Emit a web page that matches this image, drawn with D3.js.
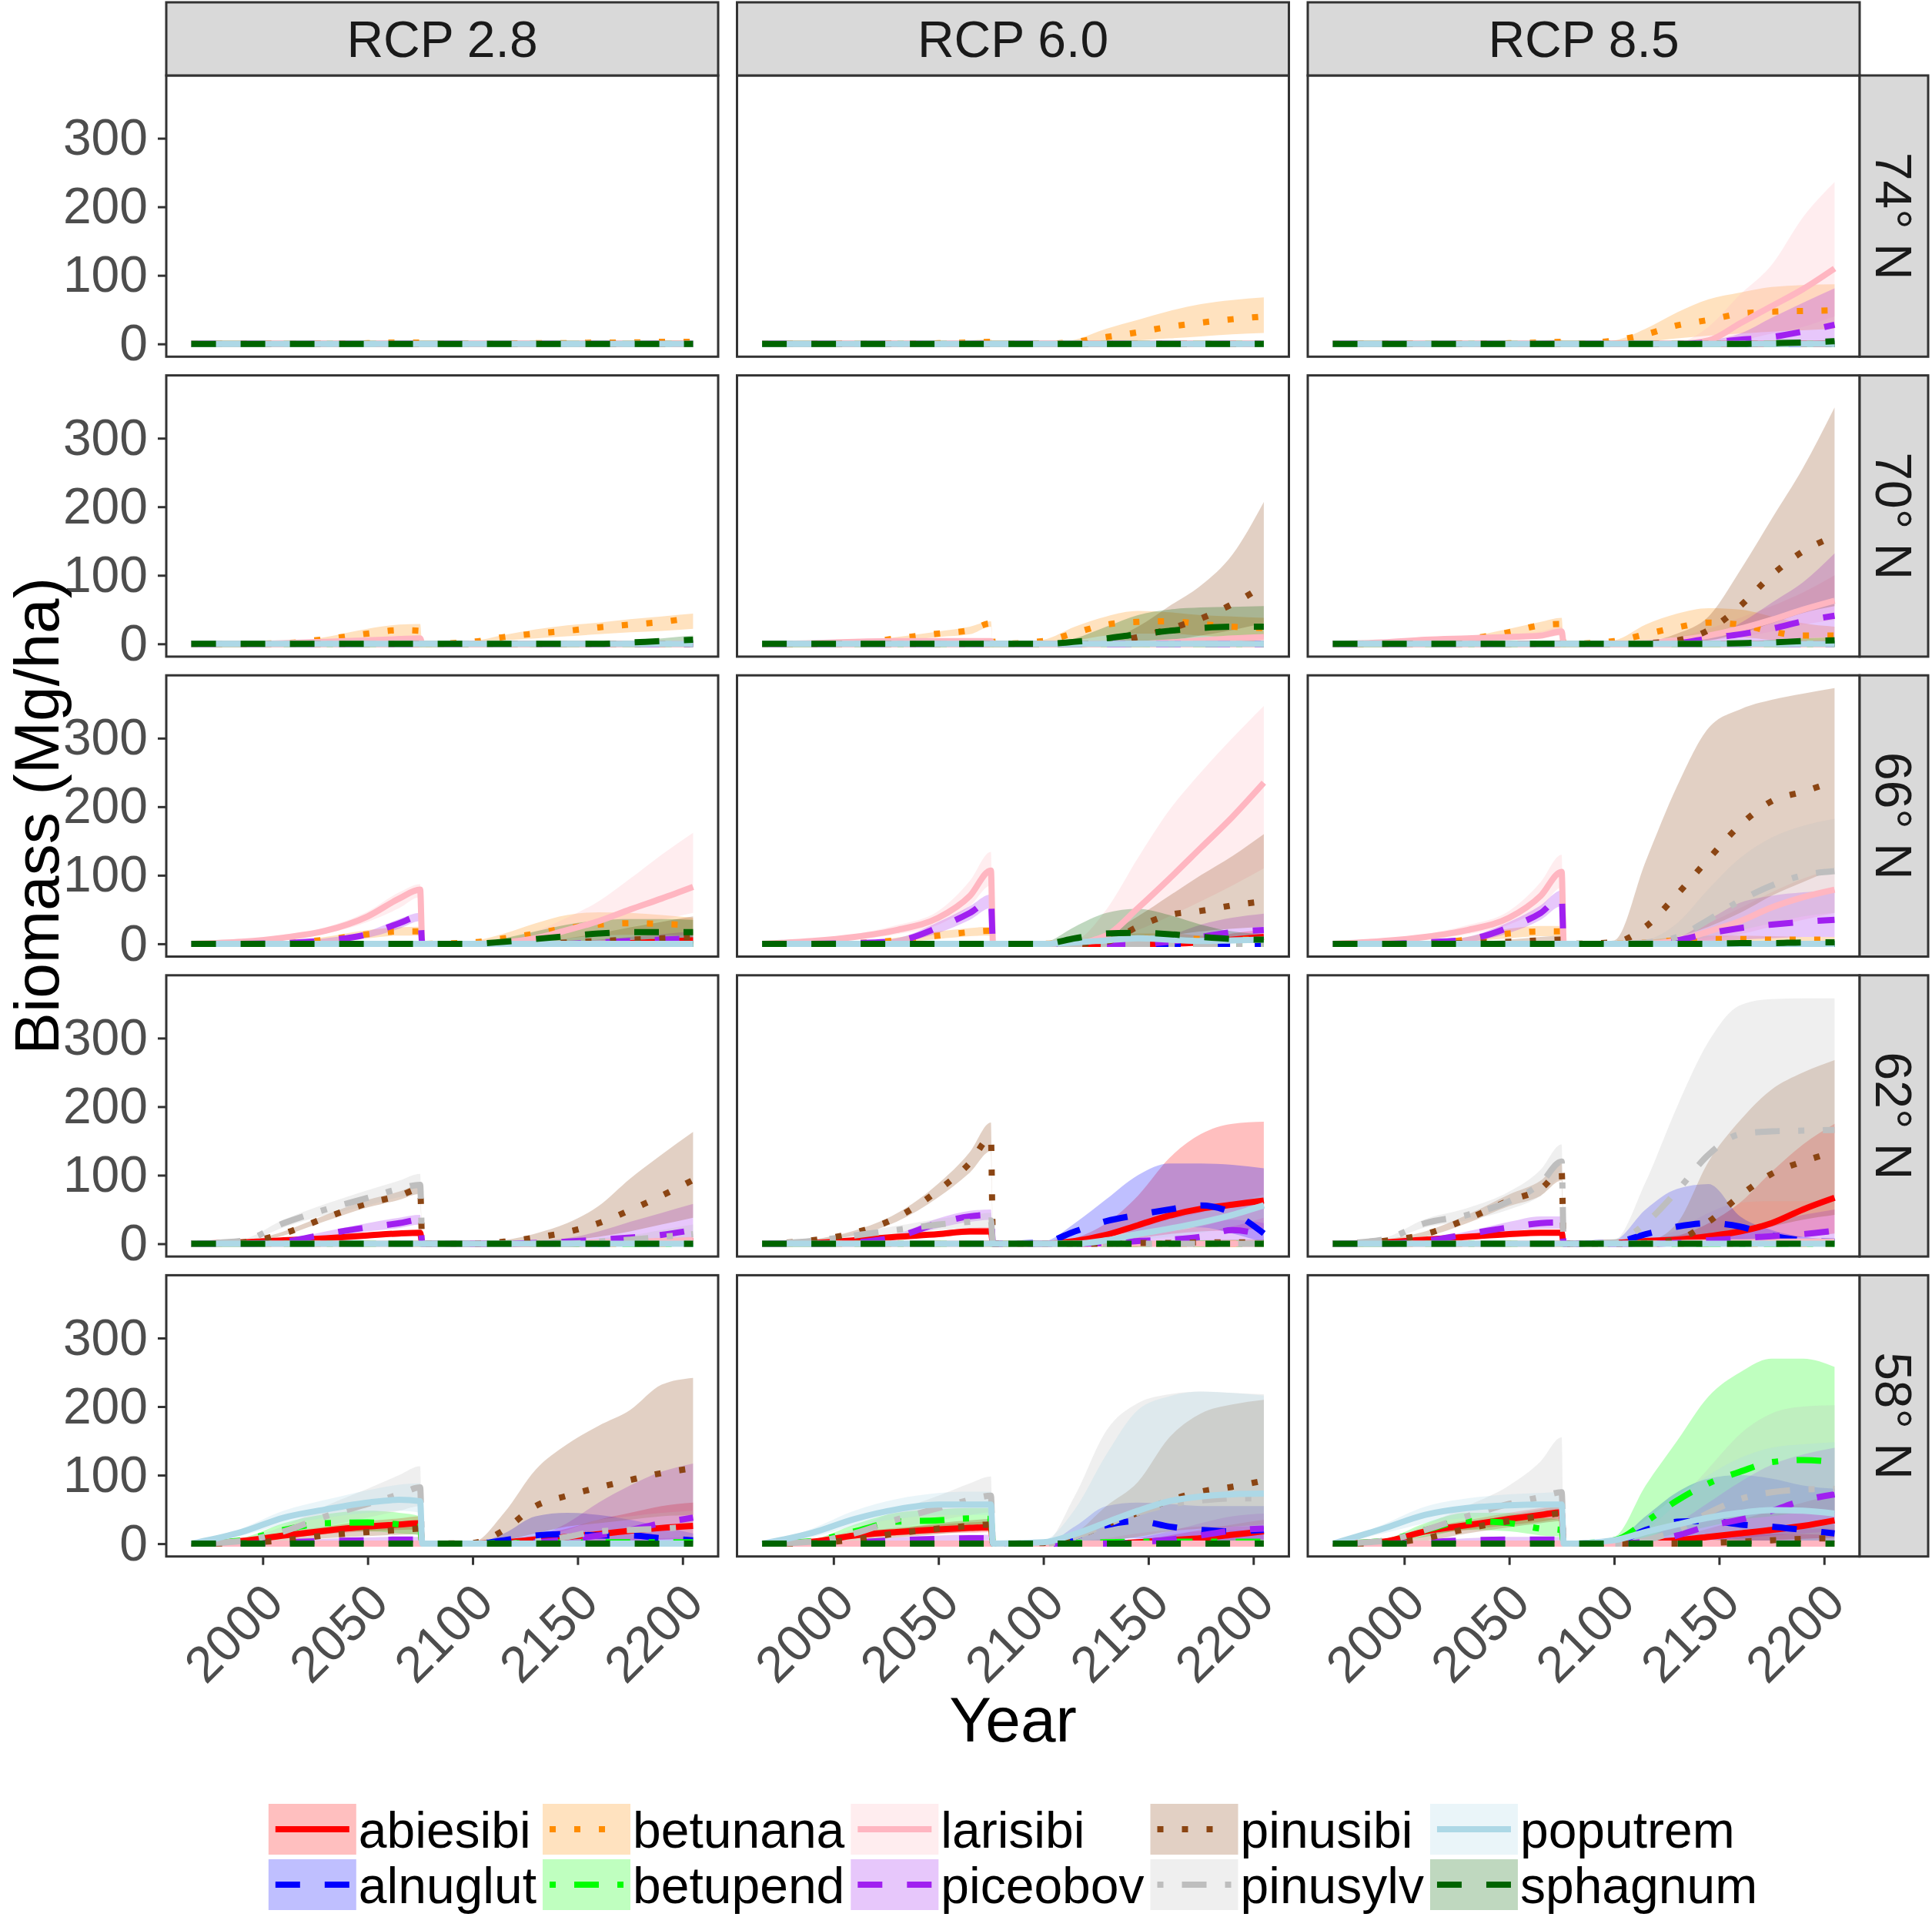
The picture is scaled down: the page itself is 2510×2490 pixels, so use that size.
<!DOCTYPE html>
<html>
<head>
<meta charset="utf-8">
<script src="https://d3js.org/d3.v7.min.js"></script>
<style>
  body { margin: 0; background: #fff; }
  text { font-family: "Liberation Sans", Arial, sans-serif; }
</style>
</head>
<body>
<div id="chart"></div>
<script>
// ---- data ---------------------------------------------------------------
// knots: first run 1966-2075, second run 2076-2205
const years = [1966, 1990, 2010, 2030, 2050, 2065, 2075, 2076, 2100, 2115, 2130, 2145, 2160, 2175, 2190, 2205];
const species = ["abiesibi", "alnuglut", "betunana", "betupend", "larisibi",
                 "piceobov", "pinusibi", "pinusylv", "poputrem", "sphagnum"];
const scenarios = ["RCP 2.8", "RCP 6.0", "RCP 8.5"];
const latitudes = ["74° N", "70° N", "66° N", "62° N", "58° N"];
const yTicks = [0, 100, 200, 300];
const xTicks = [2000, 2050, 2100, 2150, 2200];

// each species: [mean, lower, upper] in Mg/ha
const lat74_rcp28 = {
  betunana: [[0,0,0,0,1,2,2, 0, 0,0,1,1,2,2,3,3],
             [0,0,0,0,0,0,0, 0, 0,0,0,0,0,0,0,0],
             [0,0,0,1,2,3,4, 0, 0,1,2,3,4,4,5,5]]
};
const lat74_rcp60 = {
  betunana: [[0,0,0,0,1,2,3, 0, 0,3,10,17,25,31,36,40],
             [0,0,0,0,0,0,1, 0, 0,0,2,5,8,11,14,16],
             [0,0,0,1,3,5,7, 0, 1,6,22,35,48,58,64,68]]
};
const lat74_rcp85 = {
  betunana: [[0,0,0,0,1,2,3, 0, 5,14,27,35,44,47,48,49],
             [0,0,0,0,0,1,1, 0, 0,3,8,12,15,18,20,22],
             [0,0,0,1,3,5,6, 0, 5,22,46,65,75,83,86,87]],
  larisibi: [[0,0,0,0,0,0,0, 0, 0,0,0,5,30,55,80,110],
             [0,0,0,0,0,0,0, 0, 0,0,0,1,5,15,25,40],
             [0,0,0,0,0,0,0, 0, 0,0,2,25,72,115,185,236]],
  piceobov: [[0,0,0,0,0,0,0, 0, 0,0,0,2,6,10,18,28],
             [0,0,0,0,0,0,0, 0, 0,0,0,0,1,2,3,5],
             [0,0,0,0,0,0,0, 0, 0,0,0,5,15,38,60,81]],
  sphagnum: [[0,0,0,0,0,0,0, 0, 0,0,0,0,0,1,2,4],
             [0,0,0,0,0,0,0, 0, 0,0,0,0,0,0,0,0],
             [0,0,0,0,0,0,0, 0, 0,0,0,0,1,2,4,6]]
};

const lat70_rcp28 = {
  betunana: [[0,0,1,7,15,20,19, 0, 3,10,15,19,24,28,32,38],
             [0,0,0,3,8,11,10, 0, 1,5,8,11,14,17,19,22],
             [0,0,2,10,22,28,29, 0, 4,13,21,27,31,36,40,44]],
  larisibi: [[0,0,1,3,5,7,8, 0, 0,0,0,0,0,0,0,0],
             [0,0,0,1,2,3,4, 0, 0,0,0,0,0,0,0,0],
             [0,0,2,5,8,10,12, 0, 0,0,0,0,0,0,0,0]],
  sphagnum: [[0,0,0,0,0,0,0, 0, 0,0,0,0,0,2,4,6],
             [0,0,0,0,0,0,0, 0, 0,0,0,0,0,0,1,2],
             [0,0,0,0,0,0,0, 0, 0,0,0,0,1,4,8,12]]
};
const lat70_rcp60 = {
  betunana: [[0,0,1,8,15,20,30, 0, 4,16,28,32,33,29,25,23],
             [0,0,0,4,10,14,25, 0, 1,5,12,15,15,12,10,10],
             [0,0,2,10,18,25,33, 0, 6,25,40,48,46,42,40,38]],
  larisibi: [[0,1,3,4,4,4,4, 0, 0,0,0,0,2,5,8,10],
             [0,0,1,2,2,2,2, 0, 0,0,0,0,1,2,4,5],
             [0,2,5,6,6,6,6, 0, 0,0,0,1,4,8,12,15]],
  pinusibi: [[0,0,0,0,0,0,0, 0, 0,0,2,10,22,37,58,85],
             [0,0,0,0,0,0,0, 0, 0,0,0,1,5,12,20,30],
             [0,0,0,0,0,0,0, 0, 0,0,5,25,55,85,130,207]],
  sphagnum: [[0,0,0,0,0,0,0, 0, 0,3,8,14,19,23,25,25],
             [0,0,0,0,0,0,0, 0, 0,0,1,2,5,8,8,8],
             [0,0,0,0,0,0,0, 0, 0,8,25,42,50,53,54,55]]
};
const lat70_rcp85 = {
  betunana: [[0,0,1,7,17,27,29, 0, 4,14,24,31,28,18,12,12],
             [0,0,0,3,10,16,20, 0, 1,5,10,12,10,6,4,4],
             [0,0,2,10,22,32,38, 0, 5,28,44,52,50,40,30,25]],
  larisibi: [[0,2,6,8,10,12,18, 0, 0,1,5,12,22,35,50,63],
             [0,1,3,5,6,8,12, 0, 0,0,2,5,10,18,28,35],
             [0,3,8,11,14,18,25, 0, 0,3,10,22,38,55,75,100]],
  piceobov: [[0,0,0,0,0,0,0, 0, 0,0,1,8,14,22,33,41],
             [0,0,0,0,0,0,0, 0, 0,0,0,1,2,5,8,10],
             [0,0,0,0,0,0,0, 0, 0,0,3,8,30,60,90,132]],
  pinusibi: [[0,0,0,0,0,0,0, 0, 0,1,5,20,55,100,135,157],
             [0,0,0,0,0,0,0, 0, 0,0,1,5,15,30,45,55],
             [0,0,0,0,0,0,0, 0, 0,3,15,40,107,182,257,345]],
  sphagnum: [[0,0,0,0,0,0,0, 0, 0,0,0,0,1,2,4,5],
             [0,0,0,0,0,0,0, 0, 0,0,0,0,0,0,0,0],
             [0,0,0,0,0,0,0, 0, 0,0,0,1,3,6,8,10]]
};

const lat66_rcp28 = {
  abiesibi: [[0,0,0,0,0,0,0, 0, 0,0,0,0,0,1,3,5],
             [0,0,0,0,0,0,0, 0, 0,0,0,0,0,0,0,0],
             [0,0,0,0,0,0,0, 0, 0,0,0,0,1,3,6,10]],
  betunana: [[0,0,1,6,14,18,18, 0, 2,8,15,23,28,30,29,27],
             [0,0,0,3,8,12,12, 0, 0,2,5,8,12,13,13,12],
             [0,0,2,10,20,24,25, 0, 4,15,30,42,46,45,42,38]],
  larisibi: [[0,3,9,19,40,66,79, 0, 0,2,8,20,33,50,66,83],
             [0,2,6,15,32,52,68, 0, 0,0,2,8,15,25,35,45],
             [0,4,11,24,47,75,87, 0, 0,5,18,38,62,95,130,162]],
  piceobov: [[0,0,1,5,14,30,40, 0, 0,0,0,0,2,4,6,8],
             [0,0,0,3,9,22,33, 0, 0,0,0,0,0,1,2,3],
             [0,0,2,8,18,36,45, 0, 0,0,0,2,6,10,14,18]],
  pinusibi: [[0,0,0,0,0,0,0, 0, 0,0,0,2,4,6,8,10],
             [0,0,0,0,0,0,0, 0, 0,0,0,0,1,2,3,4],
             [0,0,0,0,0,0,0, 0, 0,0,2,8,15,24,32,40]],
  sphagnum: [[0,0,0,0,0,0,0, 0, 0,3,7,11,15,17,17,17],
             [0,0,0,0,0,0,0, 0, 0,0,1,3,5,6,6,6],
             [0,0,0,0,0,0,0, 0, 0,8,18,28,34,36,36,35]]
};
const lat66_rcp60 = {
  abiesibi: [[0,0,0,0,0,0,0, 0, 0,0,0,0,0,2,6,10],
             [0,0,0,0,0,0,0, 0, 0,0,0,0,0,0,2,4],
             [0,0,0,0,0,0,0, 0, 0,0,0,0,1,5,15,20]],
  betunana: [[0,0,1,5,12,17,19, 0, 0,3,6,8,8,7,6,6],
             [0,0,0,2,7,11,12, 0, 0,0,2,3,3,3,2,2],
             [0,0,2,9,18,23,25, 0, 0,6,12,15,15,12,10,10]],
  larisibi: [[0,4,10,20,38,70,107, 0, 0,1,12,52,95,140,185,235],
             [0,2,6,14,28,55,85, 0, 0,0,4,20,40,62,85,110],
             [0,6,14,27,48,92,134, 0, 0,5,50,125,195,250,300,347]],
  piceobov: [[0,0,1,4,24,45,63, 0, 0,0,0,0,3,10,17,20],
             [0,0,0,2,16,35,52, 0, 0,0,0,0,0,2,4,5],
             [0,0,2,8,32,55,72, 0, 0,0,0,3,12,28,38,44]],
  pinusibi: [[0,0,0,0,0,0,0, 0, 0,0,3,25,42,48,56,62],
             [0,0,0,0,0,0,0, 0, 0,0,0,5,12,18,22,25],
             [0,0,0,0,0,0,0, 0, 0,2,15,40,70,100,128,160]],
  poputrem: [[0,0,0,0,0,0,0, 0, 0,2,5,8,6,4,5,6],
             [0,0,0,0,0,0,0, 0, 0,0,2,3,2,1,2,2],
             [0,0,0,0,0,0,0, 0, 0,5,10,14,12,9,10,12]],
  sphagnum: [[0,0,0,0,0,0,0, 0, 0,8,15,16,14,10,7,6],
             [0,0,0,0,0,0,0, 0, 0,1,3,4,3,2,1,1],
             [0,0,0,0,0,0,0, 0, 2,25,45,51,42,28,18,14]]
};
const lat66_rcp85 = {
  betunana: [[0,0,1,6,15,18,18, 0, 0,2,5,7,7,6,6,6],
             [0,0,0,3,8,11,11, 0, 0,0,2,3,3,2,2,2],
             [0,0,2,10,22,26,26, 0, 0,5,10,12,12,11,10,10]],
  larisibi: [[0,4,10,20,38,70,105, 0, 0,0,5,18,33,53,68,79],
             [0,2,6,14,28,52,82, 0, 0,0,1,6,14,25,35,45],
             [0,6,14,27,48,90,130, 0, 0,0,10,30,52,75,95,110]],
  piceobov: [[0,0,2,6,24,45,68, 0, 0,0,5,15,23,28,32,35],
             [0,0,1,3,16,35,55, 0, 0,0,0,3,6,8,10,10],
             [0,0,3,10,32,56,78, 0, 0,0,8,35,60,70,75,78]],
  pinusibi: [[0,0,0,1,3,5,6, 0, 2,25,72,124,173,208,222,237],
             [0,0,0,0,1,2,3, 0, 0,2,10,25,45,70,90,110],
             [0,0,1,2,6,10,12, 0, 5,120,230,315,342,356,365,373]],
  pinusylv: [[0,0,0,0,0,0,0, 0, 0,2,10,35,63,85,100,106],
             [0,0,0,0,0,0,0, 0, 0,0,2,10,20,30,40,45],
             [0,0,0,0,0,0,0, 0, 0,5,30,80,125,155,172,182]],
  sphagnum: [[0,0,0,0,0,0,0, 0, 0,0,0,0,1,1,2,2],
             [0,0,0,0,0,0,0, 0, 0,0,0,0,0,0,0,0],
             [0,0,0,0,0,0,0, 0, 0,0,0,1,2,3,4,4]]
};

const lat62_rcp28 = {
  abiesibi: [[0,2,5,8,12,15,16, 0, 0,0,0,0,1,2,3,4],
             [0,1,3,5,9,12,13, 0, 0,0,0,0,0,0,1,1],
             [0,3,7,11,16,19,20, 0, 0,0,0,1,2,4,6,8]],
  larisibi: [[0,0,0,0,0,0,0, 0, 0,0,0,0,2,3,4,5],
             [0,0,0,0,0,0,0, 0, 0,0,0,0,0,0,0,0],
             [0,0,0,0,0,0,0, 0, 0,0,0,1,4,6,8,10]],
  piceobov: [[0,0,3,14,24,30,35, 0, 0,0,1,3,6,9,13,20],
             [0,0,2,10,18,23,28, 0, 0,0,0,0,1,2,3,5],
             [0,0,5,18,30,38,42, 0, 0,0,3,8,18,32,45,58]],
  pinusibi: [[0,2,15,38,59,70,80, 0, 0,3,9,17,30,49,70,93],
             [0,1,12,33,53,64,73, 0, 0,0,2,5,10,18,28,38],
             [0,3,18,42,64,76,86, 0, 0,5,15,30,55,95,130,163]],
  pinusylv: [[0,4,30,50,67,80,86, 0, 0,0,0,0,3,6,10,14],
             [0,2,24,42,56,68,72, 0, 0,0,0,0,0,2,4,6],
             [0,6,35,58,78,92,102, 0, 0,0,0,2,8,12,20,28]]
};
const lat62_rcp60 = {
  abiesibi: [[0,1,5,10,14,18,18, 0, 0,4,13,27,41,51,57,63],
             [0,1,3,7,10,13,13, 0, 0,1,3,8,14,18,20,22],
             [0,2,7,13,18,23,24, 0, 0,8,30,70,125,160,175,178]],
  alnuglut: [[0,0,0,0,0,0,0, 0, 2,18,33,42,50,56,45,15],
             [0,0,0,0,0,0,0, 0, 0,5,12,18,22,24,15,2],
             [0,0,0,0,0,0,0, 0, 3,30,65,100,117,117,115,110]],
  piceobov: [[0,0,2,10,30,40,42, 0, 0,0,1,4,6,10,20,12],
             [0,0,1,6,23,32,35, 0, 0,0,0,1,2,3,5,3],
             [0,0,3,14,37,48,50, 0, 0,0,3,10,18,25,35,30]],
  pinusibi: [[0,5,16,38,78,118,155, 0, 0,0,0,1,1,2,2,2],
             [0,4,12,32,68,104,135, 0, 0,0,0,0,0,0,0,0],
             [0,6,19,44,88,134,177, 0, 0,0,1,3,4,5,6,6]],
  pinusylv: [[0,4,12,20,28,32,34, 0, 0,0,0,0,0,0,0,0],
             [0,2,8,14,20,22,24, 0, 0,0,0,0,0,0,0,0],
             [0,6,16,26,36,42,45, 0, 0,0,0,0,0,0,0,0]],
  poputrem: [[0,0,0,0,0,0,0, 0, 0,0,5,14,22,31,42,56],
             [0,0,0,0,0,0,0, 0, 0,0,2,6,10,16,25,38],
             [0,0,0,0,0,0,0, 0, 0,0,8,22,35,45,58,72]]
};
const lat62_rcp85 = {
  abiesibi: [[0,2,6,10,14,16,16, 0, 1,4,6,11,18,30,50,67],
             [0,1,4,7,10,12,12, 0, 0,1,2,3,3,6,10,15],
             [0,3,8,13,18,20,20, 0, 2,8,12,30,60,105,145,175]],
  alnuglut: [[0,0,0,0,0,0,0, 0, 2,14,25,30,25,12,5,3],
             [0,0,0,0,0,0,0, 0, 0,2,3,4,3,2,1,0],
             [0,0,0,0,0,0,0, 0, 5,50,80,87,40,20,10,6]],
  larisibi: [[0,0,0,0,0,0,0, 0, 0,0,1,2,2,3,3,3],
             [0,0,0,0,0,0,0, 0, 0,0,0,0,0,0,0,0],
             [0,0,0,0,0,0,0, 0, 0,0,2,4,5,6,6,6]],
  piceobov: [[0,0,4,14,24,30,31, 0, 0,0,1,5,8,11,14,19],
             [0,0,2,10,18,22,22, 0, 0,0,0,1,2,3,4,5],
             [0,0,6,18,32,40,40, 0, 0,0,3,12,22,32,42,50]],
  pinusibi: [[0,4,14,36,63,80,105, 0, 0,1,6,32,70,102,120,134],
             [0,3,10,30,55,70,92, 0, 0,0,1,5,15,25,35,42],
             [0,6,18,42,72,92,118, 0, 0,3,30,120,180,225,250,268]],
  pinusylv: [[0,6,30,42,62,88,120, 0, 2,30,77,130,160,164,165,166],
             [0,4,24,34,50,70,96, 0, 0,5,20,45,60,62,62,62],
             [0,8,36,52,76,108,145, 0, 5,90,200,295,348,357,358,358]]
};

const lat58_rcp28 = {
  abiesibi: [[0,4,12,19,25,28,30, 0, 0,2,6,10,14,19,23,26],
             [0,2,8,14,18,20,21, 0, 0,0,1,2,3,5,6,7],
             [0,6,16,25,33,37,40, 0, 0,5,12,22,35,45,55,60]],
  alnuglut: [[0,0,0,0,0,0,0, 0, 0,5,12,14,12,12,8,5],
             [0,0,0,0,0,0,0, 0, 0,1,3,4,3,3,2,1],
             [0,0,0,0,0,0,0, 0, 0,15,40,45,42,35,25,15]],
  betupend: [[0,5,20,30,31,28,24, 0, 0,1,1,2,2,2,2,2],
             [0,2,12,18,18,15,12, 0, 0,0,0,0,0,0,0,0],
             [0,8,30,43,48,45,40, 0, 0,2,3,4,4,4,4,4]],
  piceobov: [[0,0,2,4,5,6,6, 0, 0,0,2,6,12,20,30,38],
             [0,0,1,2,3,3,3, 0, 0,0,0,0,2,4,6,8],
             [0,0,4,7,9,10,10, 0, 0,0,10,30,60,85,105,117]],
  pinusibi: [[0,1,5,12,17,20,22, 0, 1,20,55,70,82,93,103,110],
             [0,0,3,8,11,13,14, 0, 0,5,15,25,30,35,40,42],
             [0,2,8,18,25,28,30, 0, 2,45,108,145,172,195,232,242]],
  pinusylv: [[0,4,18,40,58,72,82, 0, 0,0,3,10,18,20,22,25],
             [0,2,10,25,38,48,55, 0, 0,0,0,2,5,7,8,9],
             [0,6,26,55,80,100,113, 0, 0,0,8,20,35,40,45,48]],
  poputrem: [[0,17,38,50,60,64,62, 0, 0,0,0,0,0,0,0,0],
             [0,12,28,38,45,48,45, 0, 0,0,0,0,0,0,0,0],
             [0,22,48,64,78,86,88, 0, 0,0,0,0,0,0,0,0]]
};
const lat58_rcp60 = {
  abiesibi: [[0,3,12,17,21,23,24, 0, 0,0,0,2,5,8,13,18],
             [0,2,8,12,15,16,17, 0, 0,0,0,0,1,2,3,5],
             [0,5,16,23,28,31,32, 0, 0,0,0,5,12,20,28,35]],
  alnuglut: [[0,0,0,0,0,0,0, 0, 0,10,27,33,25,20,18,20],
             [0,0,0,0,0,0,0, 0, 0,2,5,8,6,5,4,5],
             [0,0,0,0,0,0,0, 0, 0,25,55,60,58,55,55,55]],
  betupend: [[0,4,18,32,34,37,36, 0, 0,1,2,3,3,3,3,3],
             [0,2,10,20,22,24,22, 0, 0,0,0,0,0,0,0,0],
             [0,6,28,45,50,52,52, 0, 0,2,4,6,6,6,6,6]],
  piceobov: [[0,0,2,5,7,8,8, 0, 0,0,0,2,6,12,19,22],
             [0,0,1,3,4,5,5, 0, 0,0,0,0,1,3,5,6],
             [0,0,4,9,12,13,13, 0, 0,0,0,8,18,30,40,44]],
  pinusibi: [[0,1,6,15,22,26,28, 0, 1,10,28,45,63,76,83,92],
             [0,0,3,9,14,18,19, 0, 0,2,5,10,18,22,25,28],
             [0,2,9,21,30,34,36, 0, 2,15,55,90,155,190,203,210]],
  pinusylv: [[0,3,15,35,52,64,70, 0, 0,10,28,45,57,63,66,66],
             [0,1,8,22,34,42,46, 0, 0,2,6,10,15,18,20,20],
             [0,5,22,48,70,88,98, 0, 0,70,165,205,218,222,220,218]],
  poputrem: [[0,16,36,50,57,57,57, 0, 2,14,31,48,62,69,72,73],
             [0,10,26,36,42,42,42, 0, 0,3,8,15,20,25,25,25],
             [0,22,48,65,74,76,76, 0, 5,50,130,195,215,222,220,216]]
};
const lat58_rcp85 = {
  abiesibi: [[0,3,18,27,36,42,46, 0, 0,2,5,10,15,20,26,34],
             [0,2,13,20,27,32,36, 0, 0,0,1,2,3,5,7,9],
             [0,5,23,34,45,52,56, 0, 0,4,10,22,35,48,60,72]],
  alnuglut: [[0,0,0,0,0,0,0, 0, 2,20,32,33,28,25,20,15],
             [0,0,0,0,0,0,0, 0, 0,3,5,6,5,4,3,2],
             [0,0,0,0,0,0,0, 0, 5,40,75,95,100,95,85,80]],
  betupend: [[0,4,20,33,30,22,20, 0, 5,32,63,88,105,119,122,119],
             [0,2,10,20,18,12,10, 0, 1,5,15,25,35,40,45,45],
             [0,6,30,45,45,38,35, 0, 10,85,150,215,250,270,270,258]],
  piceobov: [[0,0,2,5,6,6,6, 0, 0,3,12,26,35,48,63,72],
             [0,0,1,2,3,3,3, 0, 0,0,2,5,8,12,15,18],
             [0,0,4,8,10,10,10, 0, 0,8,30,60,90,115,130,140]],
  pinusibi: [[0,1,8,22,33,40,44, 0, 0,0,0,1,3,5,7,8],
             [0,0,4,15,24,30,33, 0, 0,0,0,0,1,2,2,2],
             [0,2,12,28,42,50,55, 0, 0,0,0,4,10,20,25,28]],
  pinusylv: [[0,4,20,40,58,68,75, 0, 0,5,20,45,65,75,79,80],
             [0,2,12,25,35,40,42, 0, 0,1,4,10,15,20,22,22],
             [0,6,28,55,85,120,155, 0, 0,20,60,110,160,190,200,202]],
  poputrem: [[0,22,42,52,56,57,57, 0, 5,17,28,38,45,49,48,44],
             [0,15,30,38,42,42,42, 0, 1,5,5,10,12,14,14,12],
             [0,28,54,66,72,74,75, 0, 8,35,70,100,125,140,145,148]]
};

const grid = [
  [lat74_rcp28, lat74_rcp60, lat74_rcp85],
  [lat70_rcp28, lat70_rcp60, lat70_rcp85],
  [lat66_rcp28, lat66_rcp60, lat66_rcp85],
  [lat62_rcp28, lat62_rcp60, lat62_rcp85],
  [lat58_rcp28, lat58_rcp60, lat58_rcp85]
];

// ---- styles -------------------------------------------------------------
const colors = {
  abiesibi: "#FF0000", alnuglut: "#0000FF", betunana: "#FF8C00", betupend: "#00FF00",
  larisibi: "#FFB6C1", piceobov: "#A020F0", pinusibi: "#8B4513", pinusylv: "#BEBEBE",
  poputrem: "#ADD8E6", sphagnum: "#006400"
};
const lw = 8;
const dashes = {
  solid: null,
  dashed: [4 * lw, 4 * lw].join(","),
  dotted: [lw, 3 * lw].join(","),
  dotdash: [lw, 3 * lw, 4 * lw, 3 * lw].join(",")
};
const linetypes = ["solid", "dashed", "dotted", "dotdash"];
const dashOf = sp => dashes[linetypes[species.indexOf(sp) % 4]];

const W = 2510, H = 2490;
const panelLeft = 216, panelTop = 98, panelW = 717, panelH = 365.3, gapX = 24.5, gapY = 24.3;
const stripH = 95, stripW = 89;
const fontSmall = 66, fontTitle = 82;

const svg = d3.select("#chart").append("svg")
  .attr("width", W).attr("height", H)
  .style("background", "#fff");

const zeros = years.map(() => 0);
const seriesOf = (panel, sp) => panel[sp] || [zeros, zeros, zeros];

// scales (ggplot-style 5% expansion)
const xExt = d3.extent(years);
const xPad = (xExt[1] - xExt[0]) * 0.05;
const x = d3.scaleLinear().domain([xExt[0] - xPad, xExt[1] + xPad]).range([0, panelW]);

let yMax = 0;
grid.forEach(row => row.forEach(p => Object.values(p).forEach(s => {
  yMax = Math.max(yMax, d3.max(s[2]), d3.max(s[0]));
})));
const yPad = yMax * 0.05;
const y = d3.scaleLinear().domain([-yPad, yMax + yPad]).range([panelH, 0]);

const area = d3.area()
  .x((d, i) => x(years[i]))
  .y0(d => y(d[0]))
  .y1(d => y(d[1]))
  .curve(d3.curveMonotoneX);
const line = d3.line()
  .x((d, i) => x(years[i]))
  .y(d => y(d))
  .curve(d3.curveMonotoneX);

svg.append("defs").append("clipPath").attr("id", "clip")
  .append("rect").attr("width", panelW).attr("height", panelH);

grid.forEach((row, r) => {
  row.forEach((panel, c) => {
    const px = panelLeft + c * (panelW + gapX);
    const py = panelTop + r * (panelH + gapY);
    const g = svg.append("g").attr("transform", `translate(${px},${py})`);
    g.append("rect").attr("width", panelW).attr("height", panelH).attr("fill", "#fff");

    const plot = g.append("g").attr("clip-path", "url(#clip)");

    // ribbons
    species.forEach(sp => {
      if (!panel[sp]) return;
      const s = panel[sp];
      const band = s[1].map((lo, i) => [lo, s[2][i]]);
      plot.append("path")
        .attr("d", area(band))
        .attr("fill", colors[sp])
        .attr("fill-opacity", 0.25);
    });
    // mean lines
    species.forEach(sp => {
      const s = seriesOf(panel, sp);
      plot.append("path")
        .attr("d", line(s[0]))
        .attr("fill", "none")
        .attr("stroke", colors[sp])
        .attr("stroke-width", lw)
        .attr("stroke-linejoin", "round")
        .attr("stroke-dasharray", dashOf(sp));
    });

    g.append("rect").attr("width", panelW).attr("height", panelH)
      .attr("fill", "none").attr("stroke", "#333333").attr("stroke-width", 3);

    if (c === 0) {
      const ax = g.append("g").call(d3.axisLeft(y).tickValues(yTicks).tickSize(11).tickPadding(13));
      ax.select(".domain").remove();
      ax.selectAll(".tick line").attr("stroke", "#333333").attr("stroke-width", 3);
      ax.selectAll(".tick text").attr("fill", "#4D4D4D")
        .style("font-size", fontSmall + "px").attr("font-family", null);
    }
    if (r === grid.length - 1) {
      const ax = g.append("g").attr("transform", `translate(0,${panelH})`)
        .call(d3.axisBottom(x).tickValues(xTicks).tickFormat(d3.format("d")).tickSize(11));
      ax.select(".domain").remove();
      ax.selectAll(".tick line").attr("stroke", "#333333").attr("stroke-width", 3);
      ax.selectAll(".tick text")
        .attr("fill", "#4D4D4D").attr("font-family", null)
        .style("font-size", fontSmall + "px")
        .attr("x", 0).attr("y", 0).attr("dy", "0.72em")
        .attr("text-anchor", "end")
        .attr("transform", "translate(-4,30) rotate(-45)");
    }
    if (r === 0) {
      const sg = svg.append("g").attr("transform", `translate(${px},${panelTop - stripH})`);
      sg.append("rect").attr("width", panelW).attr("height", stripH)
        .attr("fill", "#D9D9D9").attr("stroke", "#333333").attr("stroke-width", 3);
      sg.append("text").attr("x", panelW / 2).attr("y", stripH / 2).attr("dy", "0.36em")
        .attr("text-anchor", "middle").attr("fill", "#1A1A1A")
        .style("font-size", fontSmall + "px").text(scenarios[c]);
    }
    if (c === row.length - 1) {
      const sg = svg.append("g").attr("transform", `translate(${px + panelW},${py})`);
      sg.append("rect").attr("width", stripW).attr("height", panelH)
        .attr("fill", "#D9D9D9").attr("stroke", "#333333").attr("stroke-width", 3);
      sg.append("text")
        .attr("transform", `translate(${stripW / 2},${panelH / 2}) rotate(90)`)
        .attr("dy", "0.36em").attr("text-anchor", "middle").attr("fill", "#1A1A1A")
        .style("font-size", fontSmall + "px").text(latitudes[r]);
    }
  });
});

// axis titles
const plotBottom = panelTop + grid.length * panelH + (grid.length - 1) * gapY;
const plotRight = panelLeft + 3 * panelW + 2 * gapX;
const midX = (panelLeft + plotRight) / 2;
svg.append("text")
  .attr("transform", `translate(76,${(panelTop + plotBottom) / 2}) rotate(-90)`)
  .attr("text-anchor", "middle").style("font-size", fontTitle + "px").attr("fill", "#000")
  .text("Biomass (Mg/ha)");
svg.append("text")
  .attr("x", midX).attr("y", 2262)
  .attr("text-anchor", "middle").style("font-size", fontTitle + "px").attr("fill", "#000")
  .text("Year");

// legend (2 rows, filled by column)
const keyW = 114, keyH = 66, keyGapY = 6, textGap = 3, colGap = 8;
const legendTop = 2343;
const legend = svg.append("g");
const legendCols = d3.range(Math.ceil(species.length / 2)).map(c => species.slice(c * 2, c * 2 + 2));
const measure = legend.append("text").style("font-size", fontSmall + "px");
const colWidths = legendCols.map(col => d3.max(col, sp => {
  measure.text(sp);
  return measure.node().getComputedTextLength();
}));
measure.remove();
const totalW = d3.sum(colWidths) + legendCols.length * (keyW + textGap) + (legendCols.length - 1) * colGap;
let lx = midX - totalW / 2;
legendCols.forEach((col, ci) => {
  col.forEach((sp, ri) => {
    const ky = legendTop + ri * (keyH + keyGapY);
    const item = legend.append("g").attr("transform", `translate(${lx},${ky})`);
    item.append("rect").attr("width", keyW).attr("height", keyH)
      .attr("fill", colors[sp]).attr("fill-opacity", 0.25);
    item.append("line")
      .attr("x1", 9).attr("x2", keyW - 9).attr("y1", keyH / 2).attr("y2", keyH / 2)
      .attr("stroke", colors[sp]).attr("stroke-width", lw)
      .attr("stroke-dasharray", dashOf(sp));
    item.append("text").attr("x", keyW + textGap).attr("y", keyH / 2).attr("dy", "0.36em")
      .style("font-size", fontSmall + "px").attr("fill", "#000").text(sp);
  });
  lx += keyW + textGap + colWidths[ci] + colGap;
});
</script>
</body>
</html>
